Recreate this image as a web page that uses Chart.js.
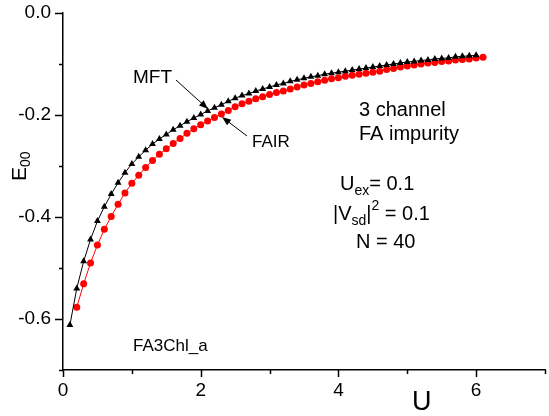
<!DOCTYPE html>
<html>
<head>
<meta charset="utf-8">
<script src="https://cdn.jsdelivr.net/npm/chart.js@4.4.0/dist/chart.umd.min.js"></script>
<style>
  html, body { margin: 0; padding: 0; background: #fff; }
  #wrap { width: 549px; height: 416px; }
</style>
</head>
<body>
<div id="wrap"><canvas id="c"></canvas></div>
<script>
// valeurs
const uMft = [0.1,0.2,0.3,0.4,0.5,0.6,0.7,0.8,0.9,1.0,1.1,1.2,1.3,1.4,1.5,1.6,1.7,1.8,1.9,2.0,
  2.1,2.2,2.3,2.4,2.5,2.6,2.7,2.8,2.9,3.0,3.1,3.2,3.3,3.4,3.5,3.6,3.7,3.8,3.9,4.0,
  4.1,4.2,4.3,4.4,4.5,4.6,4.7,4.8,4.9,5.0,5.1,5.2,5.3,5.4,5.5,5.6,5.7,5.8,5.9,6.0];
const eMft = [-0.612,-0.540,-0.487,-0.444,-0.408,-0.380,-0.355,-0.333,-0.313,-0.296,
  -0.282,-0.269,-0.257,-0.247,-0.238,-0.229,-0.221,-0.213,-0.206,-0.199,
  -0.192,-0.186,-0.180,-0.173,-0.167,-0.162,-0.158,-0.153,-0.149,-0.145,
  -0.141,-0.138,-0.134,-0.131,-0.128,-0.125,-0.123,-0.120,-0.118,-0.116,
  -0.114,-0.112,-0.110,-0.108,-0.106,-0.104,-0.102,-0.100,-0.098,-0.096,
  -0.095,-0.093,-0.092,-0.090,-0.089,-0.088,-0.086,-0.085,-0.084,-0.083];
const uFair = [0.2,0.3,0.4,0.5,0.6,0.7,0.8,0.9,1.0,1.1,1.2,1.3,1.4,1.5,1.6,1.7,1.8,1.9,2.0,2.1,
  2.2,2.3,2.4,2.5,2.6,2.7,2.8,2.9,3.0,3.1,3.2,3.3,3.4,3.5,3.6,3.7,3.8,3.9,4.0,4.1,
  4.2,4.3,4.4,4.5,4.6,4.7,4.8,4.9,5.0,5.1,5.2,5.3,5.4,5.5,5.6,5.7,5.8,5.9,6.0,6.1];
const eFair = [-0.577,-0.531,-0.490,-0.455,-0.424,-0.399,-0.375,-0.353,-0.334,-0.318,
  -0.303,-0.289,-0.277,-0.266,-0.256,-0.246,-0.236,-0.227,-0.219,-0.212,
  -0.205,-0.198,-0.191,-0.184,-0.178,-0.173,-0.168,-0.164,-0.160,-0.156,
  -0.153,-0.149,-0.145,-0.141,-0.138,-0.135,-0.132,-0.129,-0.127,-0.124,
  -0.122,-0.120,-0.118,-0.116,-0.114,-0.111,-0.109,-0.106,-0.104,-0.102,
  -0.100,-0.098,-0.097,-0.095,-0.094,-0.092,-0.091,-0.090,-0.088,-0.087];

const xTickLabels = ['0', '', '2', '', '4', '', '6', ''];
const yTickLabels = ['-0.7', '-0.6', '-0.5', '-0.4', '-0.3', '-0.2', '-0.1', '0.0'];
const yMajor = ['-0.6', '-0.4', '-0.2', '0.0'];

const FONT = "'Liberation Sans', Arial, sans-serif";

function pts(xs, ys) {
  return xs.map((x, i) => ({ x: x, y: ys[i] }));
}

// texte en morceaux (indices, exposants)
function runs(ctx, x, y, parts) {
  let cx = x;
  parts.forEach(p => {
    ctx.font = p.s + 'px ' + FONT;
    ctx.fillText(p.t, cx, y + (p.dy || 0));
    cx += ctx.measureText(p.t).width;
  });
}

function arrow(ctx, x1, y1, x2, y2) {
  const a = Math.atan2(y2 - y1, x2 - x1);
  ctx.beginPath();
  ctx.moveTo(x1, y1);
  ctx.lineTo(x2 - 6 * Math.cos(a), y2 - 6 * Math.sin(a));
  ctx.stroke();
  ctx.beginPath();
  ctx.moveTo(x2, y2);
  ctx.lineTo(x2 - 9 * Math.cos(a) + 3.5 * Math.sin(a), y2 - 9 * Math.sin(a) - 3.5 * Math.cos(a));
  ctx.lineTo(x2 - 9 * Math.cos(a) - 3.5 * Math.sin(a), y2 - 9 * Math.sin(a) + 3.5 * Math.cos(a));
  ctx.closePath();
  ctx.fill();
}

const extras = {
  id: 'extras',
  afterDraw(chart) {
    const ctx = chart.ctx;
    const xs = chart.scales.x, ys = chart.scales.y;
    const area = chart.chartArea;
    ctx.save();
    ctx.strokeStyle = '#000';
    ctx.fillStyle = '#000';
    ctx.lineWidth = 1.5;

    // graduations
    yTickLabels.forEach(t => {
      const py = Math.round(ys.getPixelForValue(parseFloat(t))) + 0.5;
      const len = yMajor.includes(t) ? 8 : 4;
      ctx.beginPath();
      ctx.moveTo(area.left, py);
      ctx.lineTo(area.left - len, py);
      ctx.stroke();
    });
    xTickLabels.forEach((t, i) => {
      const px = Math.round(xs.getPixelForValue(i)) + 0.5;
      const len = t ? 7 : 4;
      ctx.beginPath();
      ctx.moveTo(px, area.bottom);
      ctx.lineTo(px, area.bottom + len);
      ctx.stroke();
    });

    ctx.textBaseline = 'alphabetic';
    ctx.textAlign = 'left';

    // titre y : E00
    ctx.save();
    ctx.translate(26, 181);
    ctx.rotate(-Math.PI / 2);
    runs(ctx, 0, 0, [{ t: 'E', s: 21 }, { t: '00', s: 14, dy: 4 }]);
    ctx.restore();

    // titre x : U
    ctx.font = '27px ' + FONT;
    ctx.fillText('U', 412, 410);

    // annotations
    ctx.font = '19px ' + FONT;
    ctx.fillText('MFT', 133, 83);
    ctx.font = '17px ' + FONT;
    ctx.fillText('FAIR', 252, 147);
    ctx.lineWidth = 1;
    arrow(ctx, 176, 80, 208, 109);
    arrow(ctx, 247, 136, 222, 117);

    ctx.font = '20px ' + FONT;
    ctx.fillText('3 channel', 359, 116);
    ctx.fillText('FA impurity', 359, 140);
    runs(ctx, 340, 190, [{ t: 'U', s: 20 }, { t: 'ex', s: 14, dy: 5 }, { t: '= 0.1', s: 20 }]);
    runs(ctx, 333, 220, [{ t: '|V', s: 20 }, { t: 'sd', s: 14, dy: 5 }, { t: '|', s: 20 }, { t: '2', s: 14, dy: -10 }, { t: ' = 0.1', s: 20 }]);
    ctx.fillText('N = 40', 356, 248);

    ctx.font = '17px ' + FONT;
    ctx.fillText('FA3Chl_a', 133, 351);
    ctx.restore();
  }
};

new Chart(document.getElementById('c'), {
  type: 'scatter',
  data: {
    datasets: [
      {
        label: 'MFT',
        data: pts(uMft, eMft),
        showLine: true,
        borderColor: '#000',
        borderWidth: 1,
        backgroundColor: '#000',
        pointStyle: 'triangle',
        pointRadius: 4,
        pointBorderWidth: 0
      },
      {
        label: 'FAIR',
        data: pts(uFair, eFair),
        showLine: true,
        borderColor: '#ff0000',
        borderWidth: 1,
        backgroundColor: '#ff0000',
        pointStyle: 'circle',
        pointRadius: 3.5,
        pointBorderWidth: 0
      }
    ]
  },
  options: {
    responsive: true,
    maintainAspectRatio: false,
    animation: false,
    events: [],
    layout: { padding: { top: 13, right: 0, bottom: 0, left: 0 } },
    plugins: { legend: { display: false }, tooltip: { enabled: false } },
    scales: {
      x: {
        type: 'linear',
        min: 0, max: 7,
        grid: { display: false, drawTicks: false },
        border: { display: true, color: '#000', width: 1.5 },
        ticks: {
          stepSize: 1,
          padding: 9,
          maxRotation: 0,
          color: '#000',
          font: { family: FONT, size: 19 },
          callback: v => xTickLabels[Math.round(v)] || ''
        },
        afterFit: s => { s.height = 46; s.paddingLeft = 0; s.paddingRight = 0; }
      },
      y: {
        type: 'linear',
        min: -0.7, max: 0,
        grid: { display: false, drawTicks: false },
        border: { display: true, color: '#000', width: 1.5 },
        ticks: {
          stepSize: 0.1,
          padding: 12,
          color: '#000',
          font: { family: FONT, size: 19 },
          callback: v => {
            const t = v.toFixed(1) === '-0.0' ? '0.0' : v.toFixed(1);
            return yMajor.includes(t) ? t : '';
          }
        },
        afterFit: s => { s.width = 63; s.paddingTop = 0; s.paddingBottom = 0; }
      }
    }
  },
  plugins: [extras]
});
</script>
</body>
</html>
